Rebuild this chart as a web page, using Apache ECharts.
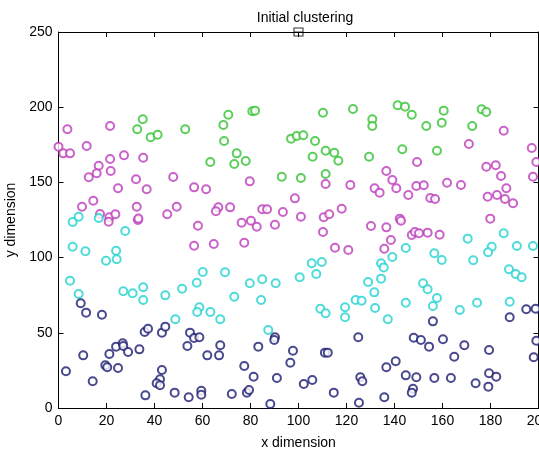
<!DOCTYPE html>
<html>
<head>
<meta charset="utf-8">
<script src="https://cdn.jsdelivr.net/npm/echarts@6/dist/echarts.min.js"></script>
<style>
html,body{margin:0;padding:0;background:#fff;}
#chart{width:539px;height:450px;}
</style>
</head>
<body>
<div id="chart"></div>
<script>
const titleText = "Initial clustering";
const xName = "x dimension";
const yName = "y dimension";
const xTicks = [0, 20, 40, 60, 80, 100, 120, 140, 160, 180, 200];
const yTicks = [0, 50, 100, 150, 200, 250];

const magentaPts = [
[3.7,185.3],[21.5,187.5],[0,173.7],[2.0,169.3],[4.8,169.3],[11.75,174.2],[27.3,168.0],[21.5,165.6],
[35.3,166.4],[16.75,161.1],[15.9,156.1],[12.6,153.4],[21.75,157.6],[32.3,152.1],[24.8,146.1],[36.75,145.4],
[47.8,153.6],[56.5,146.7],[61.5,145.4],[14.5,137.8],[9.8,133.8],[32.6,133.8],[49.25,133.8],[45.3,128.8],
[17.3,129.0],[21.2,126.8],[20.9,123.9],[23.7,128.8],[33.1,125.0],[33.3,126.0],[58.1,121.2],[56.5,107.9],
[79.7,150.7],[111.3,148.9],[121.6,148.3],[131.7,146.1],[98.5,139.4],[66.6,133.4],[65.6,130.8],[71.5,133.4],
[84.9,132.1],[86.9,132.1],[93.5,130.3],[101.0,127.2],[110.5,126.8],[112.8,128.8],[118.0,132.5],[76.3,123.2],
[80.2,124.5],[82.6,120.5],[90.2,121.9],[110.2,117.0],[64.7,109.0],[77.4,109.9],[115.2,106.6],[120.75,105.1],
[185.5,184.4],[171.0,175.5],[197.2,172.9],[199.1,163.6],[197.7,153.8],[149.4,163.6],[136.6,157.6],[139.1,151.6],
[133.8,143.2],[140.75,146.1],[145.75,141.6],[149.1,147.6],[152.2,148.1],[154.9,139.6],[156.9,139.0],[161.9,149.8],
[167.7,148.3],[178.25,160.4],[182.2,161.4],[184.4,154.3],[178.8,140.5],[182.7,141.6],[186.6,146.1],[186.0,139.0],
[189.4,136.1],[179.9,125.9],[130.2,121.0],[136.6,120.1],[142.2,125.9],[142.7,124.5],[138.5,111.7],[135.75,105.9],
[147.2,115.0],[148.5,117.0],[150.2,116.2],[153.8,116.6],[158.8,115.2]
];

const greenPts = [
[35.1,192.0],[32.8,185.3],[38.4,180.0],[41.3,181.7],[52.8,185.3],[63.25,163.6],[70.75,195.0],[80.75,197.3],
[81.9,197.7],[68.7,188.2],[69.0,177.5],[74.25,169.3],[73.25,162.2],[78.0,164.2],[96.9,179.1],[99.25,180.9],
[102.0,181.3],[106.9,177.5],[105.9,167.1],[111.3,171.1],[114.9,169.7],[116.6,164.4],[110.2,196.3],[122.7,198.8],
[129.4,167.1],[93.0,153.8],[101.0,152.9],[111.3,155.6],[141.3,201.3],[144.4,200.3],[147.2,195.0],[130.75,192.0],
[130.75,187.5],[160.5,197.7],[176.3,198.6],[178.25,196.8],[153.25,187.5],[159.7,189.7],[172.4,187.5],[143.25,172.0],
[157.7,171.1]
];

const cyanPts = [
[5.9,123.7],[8.4,127.2],[16.75,126.3],[27.8,117.7],[5.9,107.2],[11.2,104.2],[24.0,104.6],[19.8,97.9],
[24.25,98.9],[4.8,84.6],[8.4,75.8],[27.0,77.6],[30.9,76.3],[35.3,80.3],[35.3,71.8],[44.5,74.9],
[51.5,79.3],[57.6,83.3],[60.1,90.4],[48.7,59.0],[58.7,67.0],[57.8,63.8],[105.5,96.2],[109.7,97.1],
[69.4,90.3],[79.7,82.9],[84.9,85.6],[90.5,82.9],[100.5,86.9],[107.4,89.1],[129.0,83.8],[131.6,76.9],
[73.25,74.0],[84.4,71.8],[63.25,63.8],[67.4,59.0],[109.1,66.0],[111.3,63.0],[119.4,67.0],[119.4,60.3],
[123.8,71.8],[126.3,71.3],[131.9,66.5],[87.4,51.9],[170.5,112.6],[185.5,116.2],[180.5,107.2],[179.0,103.5],
[191.0,107.7],[197.7,107.7],[144.7,106.4],[139.1,100.4],[156.6,102.9],[159.7,98.4],[172.8,98.2],[134.4,96.2],
[135.5,93.5],[134.4,86.0],[137.2,59.0],[144.7,70.0],[151.9,82.9],[153.8,78.9],[157.7,73.1],[156.0,67.8],
[167.2,65.2],[174.4,70.0],[187.7,92.2],[190.5,89.1],[193.0,86.9],[188.0,70.7]
];

const navyPts = [
[194.9,65.6],[198.8,66.0],[188.0,60.3],[156.0,57.6],[148.0,46.7],[151.0,45.2],[154.4,40.8],[160.2,45.7],
[169.1,41.7],[164.9,34.1],[179.4,38.6],[199.1,44.7],[198.0,33.7],[136.6,27.1],[140.5,31.1],[144.7,21.7],
[149.1,20.4],[156.6,19.9],[163.5,19.9],[173.8,16.4],[179.4,23.1],[182.4,20.8],[179.1,14.2],[147.7,12.8],
[147.2,10.2],[135.75,7.1],[90.2,47.0],[89.9,45.2],[67.4,41.7],[62.0,35.0],[66.9,35.0],[83.25,40.8],
[97.7,38.1],[96.6,30.1],[77.4,27.9],[81.3,20.8],[91.0,19.9],[102.2,16.0],[105.75,18.6],[111.0,36.8],
[112.2,36.8],[124.9,47.0],[125.75,20.4],[126.6,17.8],[114.7,10.2],[125.2,3.5],[72.2,9.3],[78.5,10.2],
[79.4,12.0],[88.25,2.7],[9.25,69.6],[11.5,63.4],[18.1,62.0],[3.1,24.4],[10.3,35.0],[14.25,17.8],
[19.5,28.4],[20.3,27.1],[21.2,35.9],[24.0,40.8],[26.75,43.0],[27.0,41.2],[29.0,37.2],[24.8,26.6],
[33.7,39.0],[35.9,50.5],[37.3,52.7],[43.1,50.1],[44.5,54.1],[43.1,25.3],[42.3,19.1],[40.9,16.4],
[42.3,15.1],[36.2,8.4],[48.4,10.2],[54.25,7.1],[59.5,11.5],[59.5,8.8],[54.8,50.1],[56.5,46.5],
[58.7,47.0],[53.7,41.2]
];

const centroidPts = [[100, 250]];

const FONT = "'Liberation Sans', Arial, sans-serif";
const chart = echarts.init(document.getElementById('chart'), null, {renderer: 'canvas'});

function axisCommon(showLabel) {
  return {
    axisLine: {show: true, onZero: false, lineStyle: {color: '#000', width: 1}},
    axisTick: {show: true, inside: true, length: 5, lineStyle: {color: '#000', width: 1}},
    axisLabel: {show: showLabel, color: '#000', fontSize: 14, fontFamily: FONT, hideOverlap: false},
    splitLine: {show: false}
  };
}

function scatterSeries(pts, color) {
  return {
    type: 'scatter',
    data: pts,
    symbol: 'emptyCircle',
    symbolSize: 8,
    clip: false,
    itemStyle: {color: color, borderColor: color, borderWidth: 1},
    emphasis: {disabled: true},
    animation: false
  };
}

const option = {
  backgroundColor: '#fff',
  animation: false,
  title: {
    text: titleText,
    left: 300, textAlign: 'center',
    top: 6,
    textStyle: {fontSize: 14, fontWeight: 'normal', color: '#000', fontFamily: FONT}
  },
  grid: {left: 58.5, top: 32, width: 480, height: 376, containLabel: false, outerBoundsMode: 'none'},
  xAxis: [
    Object.assign({type: 'value', min: xTicks[0], max: xTicks[xTicks.length-1], interval: 20, position: 'bottom',
      name: xName, nameLocation: 'middle', nameGap: 28,
      nameTextStyle: {fontSize: 14, color: '#000', fontFamily: FONT}}, axisCommon(true)),
    Object.assign({type: 'value', min: xTicks[0], max: xTicks[xTicks.length-1], interval: 20, position: 'top'}, axisCommon(false))
  ],
  yAxis: [
    Object.assign({type: 'value', min: yTicks[0], max: yTicks[yTicks.length-1], interval: 50, position: 'left',
      name: yName, nameLocation: 'middle', nameGap: 34,
      nameTextStyle: {fontSize: 14, color: '#000', fontFamily: FONT}}, axisCommon(true)),
    Object.assign({type: 'value', min: yTicks[0], max: yTicks[yTicks.length-1], interval: 50, position: 'right'}, axisCommon(false))
  ],
  series: [
    scatterSeries(magentaPts, '#bb3cbb'),
    scatterSeries(greenPts, '#33c233'),
    scatterSeries(cyanPts, '#22d2d2'),
    scatterSeries(navyPts, '#1c1c72'),
    {
      type: 'scatter', data: centroidPts, clip: false,
      symbol: 'path://M0,0H10V10H0Z M0,5H10 M5,5V10',
      symbolSize: [9, 8],
      itemStyle: {color: 'rgba(0,0,0,0)', borderColor: '#000', borderWidth: 1},
      emphasis: {disabled: true}
    }
  ]
};
option.xAxis[0].axisLabel.margin = 6;
option.yAxis[0].axisLabel.margin = 6;
chart.setOption(option);
</script>
</body>
</html>
